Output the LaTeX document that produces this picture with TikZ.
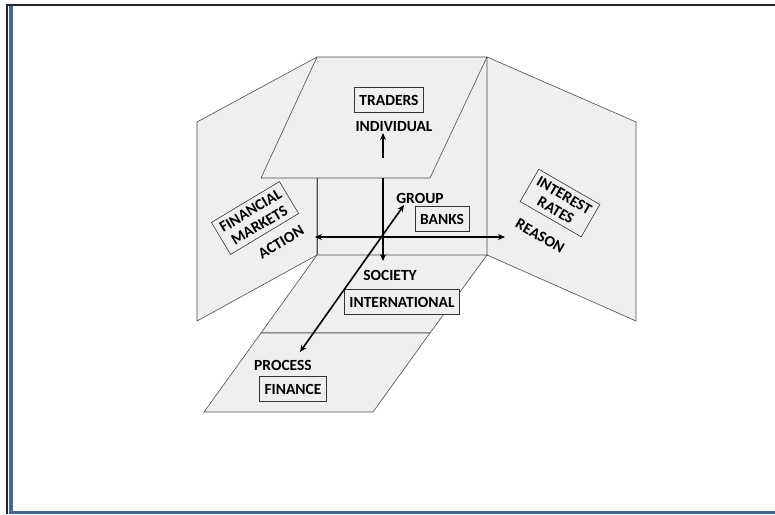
\documentclass[tikz,border=0pt]{standalone}
\usepackage{fontspec}
\setmainfont{Carlito}
\usetikzlibrary{arrows.meta}
\definecolor{frameblue}{RGB}{68,104,150}
\definecolor{wallgray}{RGB}{239,239,239}

\begin{document}
\begin{tikzpicture}[x=1pt,y=-1pt,
	wall/.style={fill=wallgray, draw=black!70, line width=0.6pt, line join=round},
	tag/.style={draw=black!80, line width=0.6pt, fill=wallgray, inner xsep=5pt, inner ysep=7pt,
		text height=10.5pt, text depth=0pt, font=\bfseries\fontsize{15.5}{17}\selectfont},
	slanttag/.style={draw=black!80, line width=0.6pt, fill=wallgray, inner xsep=5pt, inner ysep=5pt,
		align=center, font=\bfseries\fontsize{15.5}{17}\selectfont},
	word/.style={inner sep=1pt, font=\bfseries\fontsize{15.5}{17}\selectfont},
	axis/.style={line width=1.6pt, -{Stealth[length=7pt,width=6pt]}},
	twoway/.style={line width=1.6pt, {Stealth[length=7pt,width=6pt]}-{Stealth[length=7pt,width=6pt]}}]
		%%%%% START %%%%%
		
		\useasboundingbox (0,0) rectangle (775,514);
		\draw[line width=2pt, color=black!85] (7,5) -- (775,5);
		\draw[line width=2pt, color=black!85] (7,4) -- (7,514);
		\fill[frameblue] (9,6) rectangle (13,514);
		\fill[frameblue] (9,511) rectangle (775,514);
		
		% walls, ceiling and floors
		\draw[wall] (197,122) -- (317,57) -- (317,255) -- (197,321) -- cycle;
		\draw[wall] (317,57) rectangle (487,255);
		\draw[wall] (317,57) -- (487,57) -- (430,178) -- (261,178) -- cycle;
		\draw[wall] (487,57) -- (636,122) -- (636,321) -- (487,255) -- cycle;
		\draw[wall] (317,255) -- (487,255) -- (430,333) -- (261,333) -- cycle;
		\draw[wall] (261,333) -- (430,333) -- (373,412) -- (204,412) -- cycle;
		
		% labels
		\node[tag] (traders) at (389,100) {TRADERS};
		\node[word] (individual) at (394,127) {INDIVIDUAL};
		\node[word] (group) at (420,198) {GROUP};
		\node[tag] (banks) at (442,219) {BANKS};
		\node[slanttag, rotate=31] (financial) at (255,218) {FINANCIAL\\MARKETS};
		\node[word, rotate=31] (action) at (281,242) {ACTION};
		\node[slanttag, rotate=-30] (interest) at (560,203) {INTEREST\\RATES};
		\node[word, rotate=-30] (reason) at (540,236) {REASON};
		\node[word] (society) at (390,275) {SOCIETY};
		\node[tag] (international) at (402,302) {INTERNATIONAL};
		\node[word] (process) at (283,365) {PROCESS};
		\node[tag] (finance) at (293,389) {FINANCE};
		
		% axes
		\coordinate (upfoot) at (383,158);
		\coordinate (uptip) at (383,133);
		\coordinate (downfoot) at (383,178);
		\coordinate (downtip) at (383,261);
		\coordinate (lefttip) at (315,237);
		\coordinate (righttip) at (505,237);
		\coordinate (grouptip) at (404,205);
		\coordinate (processtip) at (300,352);
		
		\draw[axis] (upfoot) -- (uptip);
		\draw[axis] (downfoot) -- (downtip);
		\draw[twoway] (lefttip) -- (righttip);
		\draw[twoway] (processtip) -- (grouptip);
		
		%%%%% END %%%%%
	\end{tikzpicture}
\end{document}
